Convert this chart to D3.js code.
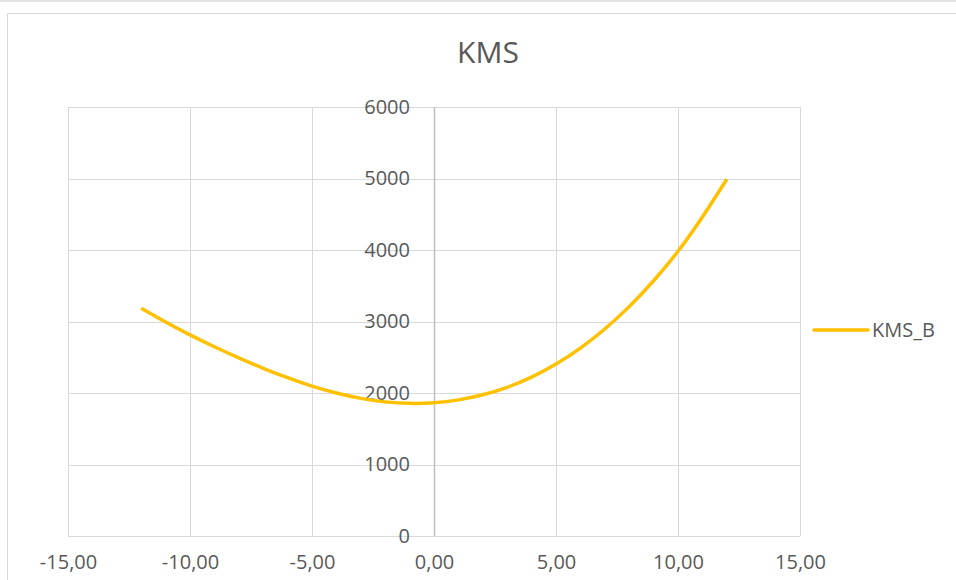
<!DOCTYPE html>
<html>
<head>
<meta charset="utf-8">
<script src="https://cdn.jsdelivr.net/npm/d3@7"></script>
<style>
  html, body { margin: 0; padding: 0; background: #ffffff; }
  svg { display: block; font-family: "Open Sans", "Noto Sans", sans-serif; }
</style>
</head>
<body>
<svg id="chart" width="956" height="580"></svg>
<script>
// KMS_B series sampled at whole-number x values
const xValues = [-12, -11, -10, -9, -8, -7, -6, -5, -4, -3, -2, -1, 0,
                 1, 2, 3, 4, 5, 6, 7, 8, 9, 10, 11, 12];
const kmsB = [3185, 2993, 2813, 2647, 2491, 2346, 2214, 2096, 1999, 1925, 1876, 1855, 1864,
              1904, 1975, 2080, 2222, 2405, 2628, 2895, 3208, 3570, 3982, 4462, 4990];
const seriesName = "KMS_B";
const chartTitle = "KMS";
const xTicks = [-15, -10, -5, 0, 5, 10, 15];
const yTicks = [0, 1000, 2000, 3000, 4000, 5000, 6000];

const svg = d3.select("#chart");
const plot = { left: 68, right: 800, top: 107, bottom: 536 };

const x = d3.scaleLinear().domain([-15, 15]).range([plot.left, plot.right]);
const y = d3.scaleLinear().domain([0, 6000]).range([plot.bottom, plot.top]);

const textColor = "#595959";
const gridColor = "#d9d9d9";

// sheet edge above the chart
svg.append("rect")
  .attr("x", 0).attr("y", 0).attr("width", 956).attr("height", 2)
  .attr("fill", "#e2e2e2");

// chart frame
svg.append("rect")
  .attr("x", 7.5).attr("y", 13.5)
  .attr("width", 1000).attr("height", 700)
  .attr("fill", "none").attr("stroke", gridColor).attr("stroke-width", 1);

// title
svg.append("text")
  .attr("x", 488).attr("y", 63)
  .attr("text-anchor", "middle")
  .attr("font-size", 30)
  .attr("fill", textColor)
  .text(chartTitle);

// horizontal gridlines
svg.append("g")
  .selectAll("line")
  .data(yTicks)
  .join("line")
  .attr("x1", plot.left).attr("x2", plot.right)
  .attr("y1", d => Math.round(y(d)) + 0.5).attr("y2", d => Math.round(y(d)) + 0.5)
  .attr("stroke", gridColor).attr("stroke-width", 1);

// vertical gridlines (x = 0 is drawn as the value axis)
svg.append("g")
  .selectAll("line")
  .data(xTicks.filter(d => d !== 0))
  .join("line")
  .attr("x1", d => Math.round(x(d)) + 0.5).attr("x2", d => Math.round(x(d)) + 0.5)
  .attr("y1", plot.top).attr("y2", plot.bottom)
  .attr("stroke", gridColor).attr("stroke-width", 1);

// value axis at x = 0
svg.append("line")
  .attr("x1", Math.round(x(0)) + 0.5).attr("x2", Math.round(x(0)) + 0.5)
  .attr("y1", plot.top).attr("y2", plot.bottom)
  .attr("stroke", "#bfbfbf").attr("stroke-width", 1.5);

// y axis labels
const yAxis = d3.axisLeft(y).tickValues(yTicks).tickSize(0).tickPadding(24)
  .tickFormat(d3.format("d"));
const gy = svg.append("g").attr("transform", `translate(${x(0)},0)`).call(yAxis);
gy.select(".domain").remove();
gy.selectAll("text").attr("font-size", 20).attr("fill", textColor)
  .attr("font-family", "'Open Sans', sans-serif");

// x axis labels, decimal comma
const commaFmt = d => d3.format(".2f")(d).replace(".", ",").replace("−", "-");
const xAxis = d3.axisBottom(x).tickValues(xTicks).tickSize(0).tickPadding(19)
  .tickFormat(commaFmt);
const gx = svg.append("g").attr("transform", `translate(0,${plot.bottom})`).call(xAxis);
gx.select(".domain").remove();
gx.selectAll("text").attr("font-size", 20).attr("fill", textColor)
  .attr("font-family", "'Open Sans', sans-serif");

// series line, smoothed
const line = d3.line()
  .x((d, i) => x(xValues[i]))
  .y(d => y(d))
  .curve(d3.curveNatural);

svg.append("path")
  .datum(kmsB)
  .attr("d", line)
  .attr("fill", "none")
  .attr("stroke", "#FFC000")
  .attr("stroke-width", 3.5)
  .attr("stroke-linejoin", "round");

// legend
const legend = svg.append("g").attr("transform", "translate(814,330)");
legend.append("line")
  .attr("x1", 0).attr("x2", 54).attr("y1", 0).attr("y2", 0)
  .attr("stroke", "#FFC000").attr("stroke-width", 3.5).attr("stroke-linecap", "round");
legend.append("text")
  .attr("x", 58).attr("y", 0).attr("dy", "0.35em")
  .attr("font-size", 20).attr("fill", textColor)
  .text(seriesName);
</script>
</body>
</html>
